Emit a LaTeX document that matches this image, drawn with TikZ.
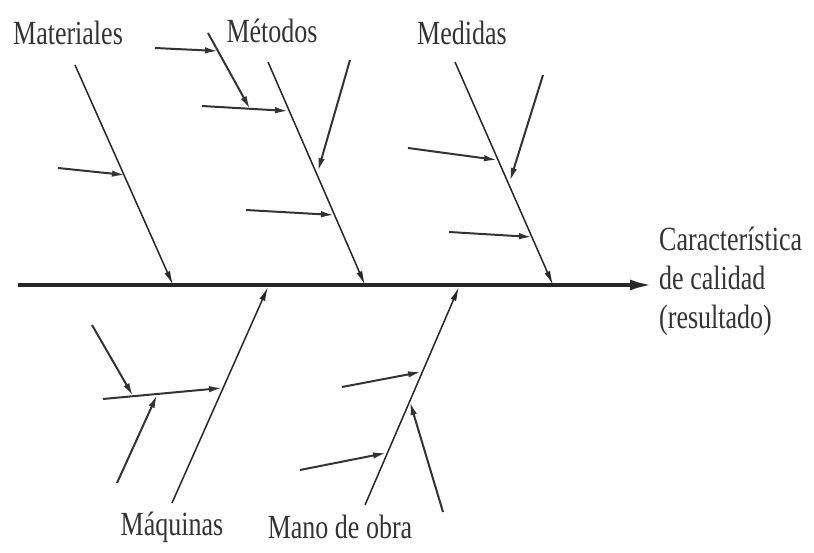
\documentclass[tikz,border=0pt]{standalone}
\usepackage{fontspec}
\setmainfont{Liberation Serif}
\usepackage{tikz}
\usetikzlibrary{arrows.meta}
\tikzset{
  lbl/.style={font=\fontsize{26}{30}\selectfont,text=black!80,inner sep=0pt,yscale=1.3,transform shape},
  spine/.style={-{Latex[length=22pt,width=11pt]},line width=3.5pt,black!85},
  bone/.style={-{Latex[length=14pt,width=6pt]},line width=1.5pt,black!85},
  twig/.style={-{Latex[length=13pt,width=6.5pt]},line width=2pt,black!80}
}

\begin{document}
\begin{tikzpicture}[x=1pt,y=1pt]
\useasboundingbox (0,0) rectangle (814,553);
% end points (px, y up)
\foreach \n/\x/\y in {sp0/18/268,sp1/652/268,
  ma0/75/488,ma1/173/268,mb0/268/491,mb1/365/268,mc0/455/491,mc1/553/268,
  md0/172/50,md1/268/266,me0/365/48,me1/459/266} {
  \coordinate (\n) at (\x,\y);
}
\foreach \n/\x/\y/\u/\v in {a1/58/385/125/378,
  b1/202/447/288/442,b2/208/520/250/444,b3/155/505/218/502,b4/350/493/318/382,b5/246/343/334/338,
  c1/408/405/497/393,c2/543/478/510/372,c3/449/321/532/316,
  d1/103/154/222/165,d2/92/228/133/157,d3/117/70/157/158,
  e1/342/166/421/181,e2/300/83/386/100,e3/443/41/410/151} {
  \coordinate (\n s) at (\x,\y);
  \coordinate (\n t) at (\u,\v);
}
\draw[spine] (sp0) -- (sp1);
\foreach \a/\b in {ma0/ma1,mb0/mb1,mc0/mc1,md0/md1,me0/me1}
  \draw[bone] (\a) -- (\b);
\foreach \t in {a1,b1,b2,b3,b4,b5,c1,c2,c3,d1,d2,d3,e1,e2,e3}
  \draw[twig] (\t s) -- (\t t);
\node[lbl] (lmat) at (68,520) {Materiales};
\node[lbl] (lmet) at (272,522) {Métodos};
\node[lbl] (lmed) at (462,520) {Medidas};
\node[lbl] (lmaq) at (172,26) {Máquinas};
\node[lbl] (lmano) at (340,26) {Mano de obra};
\node[lbl,anchor=west,align=left] (lres) at (659,272) {Característica\\de calidad\\(resultado)};
\end{tikzpicture}
\end{document}
